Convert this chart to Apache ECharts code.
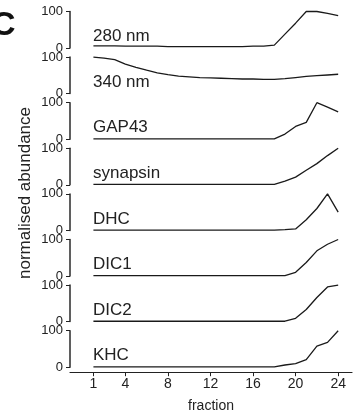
<!DOCTYPE html>
<html>
<head>
<meta charset="utf-8">
<script src="https://cdn.jsdelivr.net/npm/echarts@6/dist/echarts.min.js"></script>
<style>
  html, body { margin: 0; padding: 0; background: #fff; }
  #chart { width: 358px; height: 411px; }
</style>
</head>
<body>
<div id="chart"></div>
<script>
// fractions along the gradient
const fractions = [1, 2, 3, 4, 5, 6, 7, 8, 9, 10, 11, 12, 13, 14, 15, 16, 17, 18, 19, 20, 21, 22, 23, 24];
const xTicks = [1, 4, 8, 12, 16, 20, 24];

// normalised abundance per panel (0-100)
const nm280 = [6, 6, 6, 5, 5, 5, 5, 4, 4, 4, 4, 4, 4, 4, 4, 5, 5, 8, 38, 68, 100, 100, 95, 89];
const nm340 = [100, 97, 93, 81, 72, 64, 57, 52, 48, 46, 44, 43, 42, 41, 40, 40, 39, 39, 41, 44, 47, 49, 51, 53];
const gap43 = [1, 1, 1, 1, 1, 1, 1, 1, 1, 1, 1, 1, 1, 1, 1, 1, 1, 1, 14, 35, 46, 100, 88, 75];
const synapsin = [1, 1, 1, 1, 1, 1, 1, 1, 1, 1, 1, 1, 1, 1, 1, 1, 1, 1, 10, 21, 40, 58, 80, 100];
const dhc = [1, 1, 1, 1, 1, 1, 1, 1, 1, 1, 1, 1, 1, 1, 1, 1, 1, 1, 2, 4, 29, 60, 100, 50];
const dic1 = [1, 1, 1, 1, 1, 1, 1, 1, 1, 1, 1, 1, 1, 1, 1, 1, 1, 1, 1, 10, 37, 69, 87, 100];
const dic2 = [1, 1, 1, 1, 1, 1, 1, 1, 1, 1, 1, 1, 1, 1, 1, 1, 1, 1, 1, 9, 33, 66, 95, 100];
const khc = [1, 1, 1, 1, 1, 1, 1, 1, 1, 1, 1, 1, 1, 1, 1, 1, 1, 1, 6, 10, 21, 58, 68, 100];

const panelNames = ["280 nm", "340 nm", "GAP43", "synapsin", "DHC", "DIC1", "DIC2", "KHC"];
const panelData = [nm280, nm340, gap43, synapsin, dhc, dic1, dic2, khc];

const FONT = "Liberation Sans, Arial, Helvetica, sans-serif";
const TOP0 = 11.5;   // y of the first panel's 100 tick
const STEP = 45.6;   // distance between panels
const H = 36.5;      // panel height (0..100)
const LEFT = 70;
const RIGHT = 6;

const chart = echarts.init(document.getElementById("chart"), null, { renderer: "canvas" });

const grids = [];
const xAxes = [];
const yAxes = [];
const series = [];
const graphics = [];

panelData.forEach((vals, i) => {
  const top = TOP0 + i * STEP;
  const last = i === panelData.length - 1;
  grids.push({ left: LEFT, right: RIGHT, top: top, height: H, containLabel: false, outerBoundsMode: "none" });

  xAxes.push({
    gridIndex: i,
    type: "value",
    position: "bottom",
    min: -1.2,
    max: 25.3,
    show: last,
    offset: last ? 5 : 0,
    axisLine: { show: true, onZero: false, lineStyle: { color: "#222", width: 1.2 } },
    axisTick: { show: true, length: 4, customValues: xTicks, lineStyle: { color: "#222" } },
    axisLabel: { show: true, customValues: xTicks, fontSize: 14, color: "#222", margin: 5, fontFamily: FONT },
    splitLine: { show: false },
    name: last ? "fraction" : "",
    nameLocation: "middle",
    nameGap: 27,
    nameTextStyle: { fontSize: 14, color: "#222", fontFamily: FONT }
  });

  yAxes.push({
    gridIndex: i,
    type: "value",
    min: 0,
    max: 100,
    interval: 100,
    axisLine: { show: true, onZero: false, lineStyle: { color: "#2a2a2a", width: 1.5 } },
    axisTick: { show: true, length: 4, lineStyle: { color: "#222" } },
    axisLabel: { fontSize: 13, color: "#222", margin: 7, fontFamily: FONT },
    splitLine: { show: false }
  });

  series.push({
    type: "line",
    xAxisIndex: i,
    yAxisIndex: i,
    data: fractions.map((f, k) => [f, vals[k]]),
    showSymbol: false,
    clip: false,
    lineStyle: { color: "#1a1a1a", width: 1.3 },
    animation: false
  });

  graphics.push({
    type: "text",
    left: 93,
    top: top + H - 20,
    style: { text: panelNames[i], fontSize: 17, fill: "#222", fontFamily: FONT }
  });
});

// shared y title
graphics.push({
  type: "text",
  x: 25,
  y: 193,
  rotation: Math.PI / 2,
  style: {
    text: "normalised abundance",
    fontSize: 17,
    fill: "#222",
    fontFamily: FONT,
    align: "center",
    verticalAlign: "middle"
  }
});

// panel letter
graphics.push({
  type: "text",
  left: -9,
  top: 9,
  style: { text: "C", fontSize: 34, fontWeight: "bold", fill: "#111", fontFamily: FONT }
});

chart.setOption({
  animation: false,
  backgroundColor: "#fff",
  grid: grids,
  xAxis: xAxes,
  yAxis: yAxes,
  series: series,
  graphic: graphics
});
</script>
</body>
</html>
